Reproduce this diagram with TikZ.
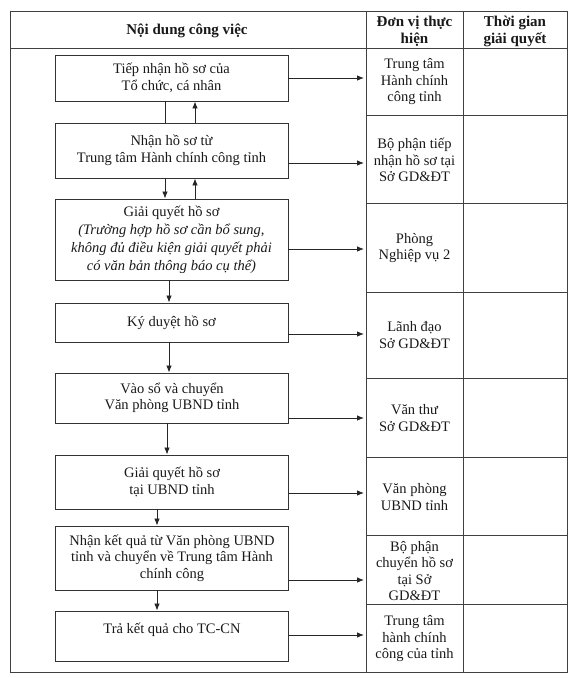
\documentclass[tikz,border=0pt]{standalone}
\usepackage{fontspec}
\setmainfont{Liberation Serif}
\usetikzlibrary{arrows.meta}
\begin{document}
\begin{tikzpicture}[x=1pt,y=-1pt,
  body/.style={font=\fontsize{14.5}{16.5}\selectfont, align=center, text=black!90},
  head/.style={font=\bfseries\fontsize{15}{17}\selectfont, align=center, text=black!90},
  stepbox/.style={body, draw=black!80, line width=0.9pt, minimum width=233pt, inner sep=0pt},
  grid/.style={draw=black!75, line width=0.9pt},
  conn/.style={draw=black!85, line width=0.8pt},
  arr/.style={conn, -{Latex[length=7pt,width=5.5pt]}}]
\useasboundingbox (0,0) rectangle (576,678);
% table
\draw[grid] (10,11) rectangle (567,672);
\draw[grid] (10,48) -- (567,48);
\draw[grid] (366,11) -- (366,672);
\draw[grid] (463,11) -- (463,672);
\foreach \yy in {115,203,292,378,457,535,604}
  \draw[grid] (366,\yy) -- (567,\yy);
% headers
\node[head] (h1) at (187,30.5) {Nội dung công việc};
\node[head] (h2) at (414.5,31) {Đơn vị thực\\hiện};
\node[head] (h3) at (515,31) {Thời gian\\giải quyết};
% column 2 texts
\node[body] (c1) at (414.5,82) {Trung tâm\\Hành chính\\công tỉnh};
\node[body] (c2) at (414.5,160) {Bộ phận tiếp\\nhận hồ sơ tại\\Sở GD\&ĐT};
\node[body] (c3) at (414.5,248) {Phòng\\Nghiệp vụ 2};
\node[body] (c4) at (414.5,335) {Lãnh đạo\\Sở GD\&ĐT};
\node[body] (c5) at (414.5,418) {Văn thư\\Sở GD\&ĐT};
\node[body] (c6) at (414.5,497) {Văn phòng\\UBND tỉnh};
\node[body] (c7) at (414.5,571) {Bộ phận\\chuyển hồ sơ\\tại Sở\\GD\&ĐT};
\node[body] (c8) at (414.5,639) {Trung tâm\\hành chính\\công của tỉnh};
% boxes
\node[stepbox, minimum height=46pt] (b1) at (171.5,78) {Tiếp nhận hồ sơ của\\Tổ chức, cá nhân};
\node[stepbox, minimum height=55pt] (b2) at (171.5,150.5) {Nhận hồ sơ từ\\Trung tâm Hành chính công tỉnh};
\node[stepbox, minimum height=81pt, font=\fontsize{14.5}{18}\selectfont] (b3) at (171.5,239.5) {Giải quyết hồ sơ\\\textit{(Trường hợp hồ sơ cần bổ sung,}\\\textit{không đủ điều kiện giải quyết phải}\\\textit{có văn bản thông báo cụ thể)}};
\node[stepbox, minimum height=39pt] (b4) at (171.5,322.5) {Ký duyệt hồ sơ};
\node[stepbox, minimum height=50pt] (b5) at (172,398) {Vào sổ và chuyển\\Văn phòng UBND tỉnh};
\node[stepbox, minimum height=54pt] (b6) at (172,482) {Giải quyết hồ sơ\\tại UBND tỉnh};
\node[stepbox, minimum height=64pt] (b7) at (172,558) {Nhận kết quả từ Văn phòng UBND\\tỉnh và chuyển về Trung tâm Hành\\chính công};
\node[stepbox, minimum height=50pt] (b8) at (172,636) {Trả kết quả cho TC-CN\\~};
% x positions of vertical connectors
\coordinate (xL) at (165,0);
\coordinate (xR) at (195,0);
\coordinate (xA) at (169,0);
\coordinate (xB) at (167,0);
\coordinate (xC) at (157,0);
\draw[conn] (b1.south -| xL) -- (b2.north -| xL);
\draw[arr] (b2.south -| xL) -- (b3.north -| xL);
\draw[arr] (b3.north -| xR) -- (b2.south -| xR);
\draw[arr] (b2.north -| xR) -- (b1.south -| xR);
\draw[arr] (b3.south -| xA) -- (b4.north -| xA);
\draw[arr] (b4.south -| xA) -- (b5.north -| xA);
\draw[arr] (b5.south -| xB) -- (b6.north -| xB);
\draw[arr] (b6.south -| xC) -- (b7.north -| xC);
\draw[arr] (b7.south -| xC) -- (b8.north -| xC);
% horizontal connectors to column 2
\coordinate (t1) at (364,78);
\coordinate (t2) at (364,163);
\coordinate (t3) at (364,249);
\coordinate (t4) at (364,334);
\coordinate (t5) at (364,418);
\coordinate (t6) at (364,493);
\coordinate (t7) at (364,580);
\coordinate (t8) at (364,635);
\foreach \i in {1,...,8}
  \draw[arr] (b\i.east |- t\i) -- (t\i);
\end{tikzpicture}
\end{document}
